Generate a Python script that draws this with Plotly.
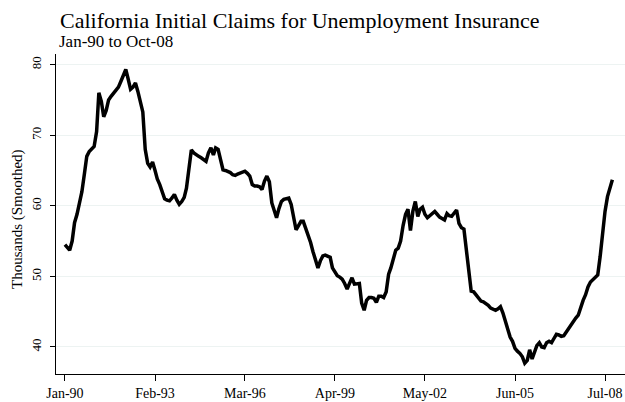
import pandas as pd
import plotly.graph_objects as go

start_month = "1990-01-01"
claims = [
    54.5, 54.0, 53.7, 55.0, 57.6, 58.8, 60.5, 62.0, 64.5, 67.0,
    67.7, 68.0, 68.4, 70.5, 76.0, 74.8, 72.6, 73.5, 75.0, 75.5,
    76.0, 76.3, 76.8, 77.6, 78.6, 79.3, 78.0, 76.5, 76.8, 77.4,
    76.2, 74.8, 73.3, 68.0, 66.0, 65.5, 66.2, 65.0, 63.8, 63.0,
    62.0, 61.0, 60.8, 60.7, 61.1, 61.6, 60.8, 60.2, 60.6, 61.2,
    62.5, 65.5, 67.9, 67.5, 67.2, 67.0, 66.8, 66.5, 66.3, 67.5,
    68.2, 67.2, 68.2, 68.0, 66.5, 65.1, 65.0, 64.9, 64.7, 64.4,
    64.3, 64.5, 64.6, 64.8, 64.9, 64.6, 64.2, 63.0, 62.8, 62.8,
    62.7, 62.3, 63.5, 64.2, 63.4, 60.4, 59.4, 58.3, 59.6, 60.6,
    60.9, 61.0, 61.1, 60.2, 58.6, 56.6, 57.2, 57.8, 57.8, 56.8,
    55.9, 54.8, 53.5, 52.3, 51.2, 52.2, 52.9, 53.0, 52.9, 52.7,
    51.2, 50.6, 50.1, 49.9, 49.6, 49.0, 48.2, 49.0, 49.8, 48.9,
    49.0, 49.0, 46.2, 45.2, 46.6, 47.0, 47.0, 46.9, 46.3, 47.2,
    47.2, 47.0, 47.8, 50.3, 51.2, 52.5, 53.7, 54.0, 55.0, 57.2,
    58.8, 59.5, 56.5, 59.2, 60.6, 58.5, 59.5, 59.8, 58.8, 58.3,
    58.6, 58.9, 59.2, 58.8, 58.4, 58.2, 58.0, 58.9, 58.6, 58.5,
    58.9, 59.4, 57.5, 56.9, 56.7, 54.0, 50.6, 47.9, 47.8, 47.4,
    47.0, 46.5, 46.4, 46.2, 45.9, 45.5, 45.3, 45.2, 45.4, 45.7,
    44.8, 43.5, 42.3, 41.4, 40.8, 39.8, 39.4, 39.1, 38.6, 37.7,
    38.1, 39.6, 38.3, 39.2, 40.2, 40.6, 40.0, 39.9, 40.6, 40.8,
    40.6, 41.2, 41.8, 41.7, 41.5, 41.6, 42.1, 42.7, 43.2, 43.7,
    44.1, 44.5, 45.7, 46.6, 47.4, 48.5, 49.2, 49.6, 49.9, 50.2,
    52.8, 56.5, 59.2, 61.3, 62.5, 63.7,
]
dates = pd.date_range(start_month, periods=len(claims), freq="MS")

tick_dates = ["1990-01-01", "1993-02-01", "1996-03-01", "1999-04-01",
              "2002-05-01", "2005-06-01", "2008-07-01"]
tick_labels = ["Jan-90", "Feb-93", "Mar-96", "Apr-99", "May-02", "Jun-05", "Jul-08"]
y_ticks = [40, 50, 60, 70, 80]

FONT = "Liberation Serif"

fig = go.Figure()
fig.add_trace(go.Scatter(
    x=dates, y=claims, mode="lines",
    line=dict(color="black", width=3.5),
    hoverinfo="skip",
))

fig.update_layout(
    width=625, height=402,
    margin=dict(l=56, r=0, t=54, b=28, autoexpand=False),
    paper_bgcolor="white", plot_bgcolor="white",
    showlegend=False,
    font=dict(family=FONT, color="black", size=13),
    title=dict(
        text="California Initial Claims for Unemployment Insurance",
        x=60 / 625, xanchor="left", y=1 - 20 / 402, yanchor="middle",
        font=dict(family=FONT, size=22, color="black"),
    ),
    annotations=[
        dict(text="Jan-90 to Oct-08", xref="paper", yref="paper",
             x=(57 - 56) / 569, y=(374 - 42) / 320, xanchor="left", yanchor="middle",
             showarrow=False, font=dict(family=FONT, size=17, color="black")),
        dict(text="Thousands (Smoothed)", xref="paper", yref="paper",
             x=(17 - 56) / 569, y=(374 - 219) / 320, xanchor="center", yanchor="middle",
             textangle=-90, showarrow=False, font=dict(family=FONT, size=15, color="black")),
    ],
    xaxis=dict(
        type="date",
        range=["1989-09-11", "2009-03-08"],
        tickvals=tick_dates, ticktext=tick_labels,
        ticks="outside", ticklen=6, tickcolor="black", tickwidth=1,
        showline=True, linecolor="black", linewidth=1,
        showgrid=False, zeroline=False, automargin=False,
        tickfont=dict(family=FONT, size=14),
    ),
    yaxis=dict(
        range=[36.17, 81.5],
        tickvals=y_ticks,
        ticks="outside", ticklen=5, tickcolor="black", tickwidth=1,
        tickangle=-90, ticklabelstandoff=4,
        showline=True, linecolor="black", linewidth=1,
        showgrid=True, gridcolor="#edf3f2", gridwidth=1,
        zeroline=False, automargin=False,
        tickfont=dict(family=FONT, size=13),
    ),
)

fig.write_html("out.html", config={"displayModeBar": False},
               post_script="document.body.style.margin='0';")
